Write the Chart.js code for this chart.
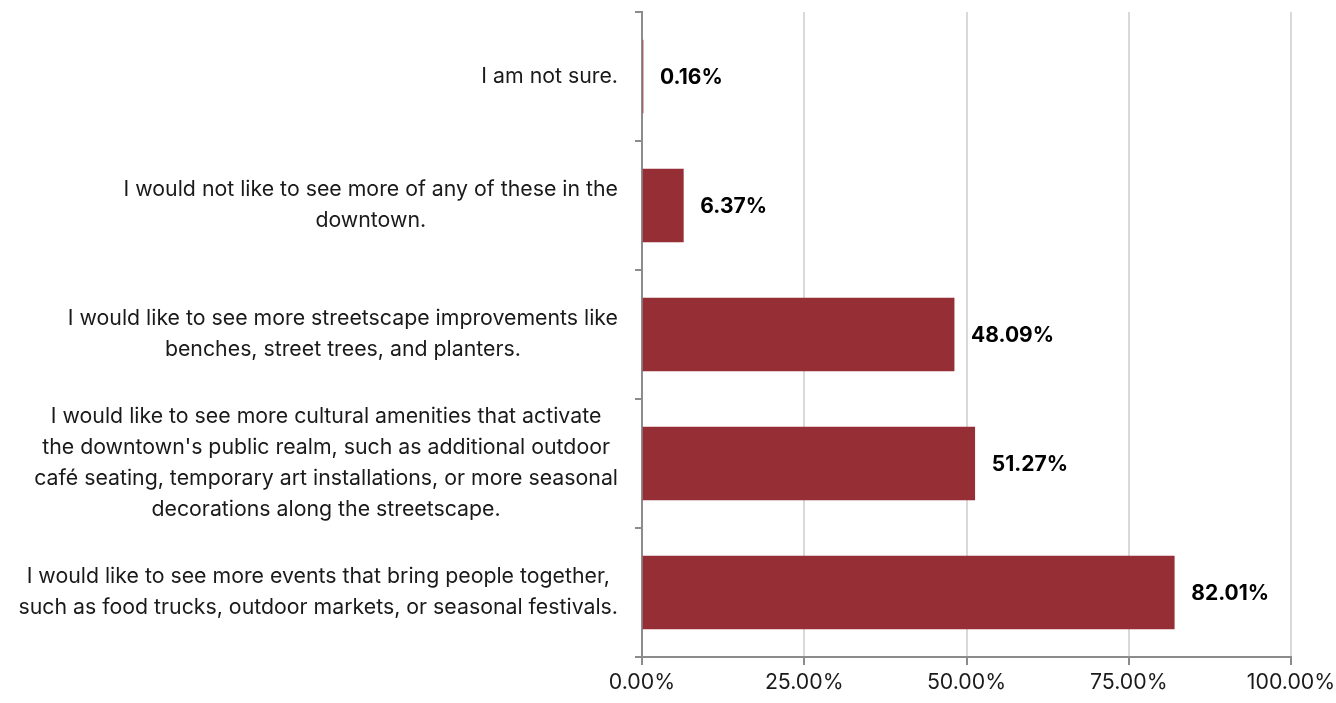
<!DOCTYPE html>
<html>
<head>
<meta charset="utf-8">
<script src="https://cdn.jsdelivr.net/npm/chart.js@4.4.1/dist/chart.umd.min.js"></script>
<style>
  html, body { margin: 0; padding: 0; background: #fff; }
  #wrap { width: 1336px; height: 703px; }
</style>
</head>
<body>
<div id="wrap"><canvas id="surveyChart"></canvas></div>
<script>
// survey answers, top to bottom
var categories = [
    ["I am not sure."],
    ["I would not like to see more of any of these in the", "downtown."],
    ["I would like to see more streetscape improvements like", "benches, street trees, and planters."],
    ["I would like to see more cultural amenities that activate", "the downtown's public realm, such as additional outdoor", "café seating, temporary art installations, or more seasonal", "decorations along the streetscape."],
    ["I would like to see more events that bring people together,", "such as food trucks, outdoor markets, or seasonal festivals."]
];
var percentages = [0.16, 6.37, 48.09, 51.27, 82.01];
var xTicks = [0, 25, 50, 75, 100];

var labelFont = "Inter, 'Liberation Sans', sans-serif";

// draws the multi-line answers (centred lines, right-anchored block) and the value labels
var labelPlugin = {
    id: 'labelPlugin',
    afterDraw: function (chart) {
        var ctx = chart.ctx;
        var yScale = chart.scales.y;
        var area = chart.chartArea;
        ctx.save();
        ctx.fillStyle = '#1a1a1a';
        ctx.font = '21.3px ' + labelFont;
        ctx.textAlign = 'center';
        ctx.textBaseline = 'middle';
        var lineHeight = 31;
        categories.forEach(function (lines, i) {
            var cy = yScale.getPixelForValue(i);
            var widest = 0;
            lines.forEach(function (l) { widest = Math.max(widest, ctx.measureText(l).width); });
            var cx = area.left - 24 - widest / 2;
            var startY = cy - (lines.length - 1) * lineHeight / 2;
            lines.forEach(function (l, k) {
                ctx.fillText(l, cx, startY + k * lineHeight);
            });
        });

        ctx.font = 'bold 21px ' + labelFont;
        ctx.fillStyle = '#000';
        ctx.textAlign = 'left';
        var meta = chart.getDatasetMeta(0);
        meta.data.forEach(function (bar, i) {
            ctx.fillText(percentages[i].toFixed(2) + '%', bar.x + 17, bar.y + 1);
        });
        ctx.restore();
    }
};

var canvas = document.getElementById('surveyChart');
new Chart(canvas, {
    type: 'bar',
    data: {
        labels: categories.map(function (c) { return c.join(' '); }),
        datasets: [{
            data: percentages,
            backgroundColor: '#952e35',
            borderWidth: 0,
            barThickness: 73
        }]
    },
    plugins: [labelPlugin],
    options: {
        indexAxis: 'y',
        responsive: true,
        maintainAspectRatio: false,
        animation: false,
        layout: { padding: { top: 12, right: 45, left: 0, bottom: 0 } },
        plugins: {
            legend: { display: false },
            tooltip: { enabled: false }
        },
        scales: {
            x: {
                min: 0,
                max: 100,
                afterBuildTicks: function (scale) {
                    scale.ticks = xTicks.map(function (v) { return { value: v }; });
                },
                afterFit: function (scale) {
                    scale.height = 46;
                    scale.paddingLeft = 0;
                    scale.paddingRight = 0;
                },
                border: { color: '#8c8c8c', width: 2 },
                grid: {
                    color: '#d9d9d9',
                    lineWidth: 2,
                    tickColor: '#8c8c8c',
                    tickLength: 8
                },
                ticks: {
                    color: '#1a1a1a',
                    font: { family: labelFont, size: 21.3 },
                    padding: 5,
                    maxRotation: 0,
                    callback: function (v) { return Number(v).toFixed(2) + '%'; }
                }
            },
            y: {
                afterFit: function (scale) { scale.width = 642; },
                border: { color: '#8c8c8c', width: 2 },
                grid: {
                    offset: true,
                    drawOnChartArea: false,
                    color: '#8c8c8c',
                    lineWidth: 2,
                    tickLength: 7
                },
                ticks: {
                    color: 'rgba(0,0,0,0)',
                    font: { size: 1 }
                }
            }
        }
    }
});
</script>
</body>
</html>
